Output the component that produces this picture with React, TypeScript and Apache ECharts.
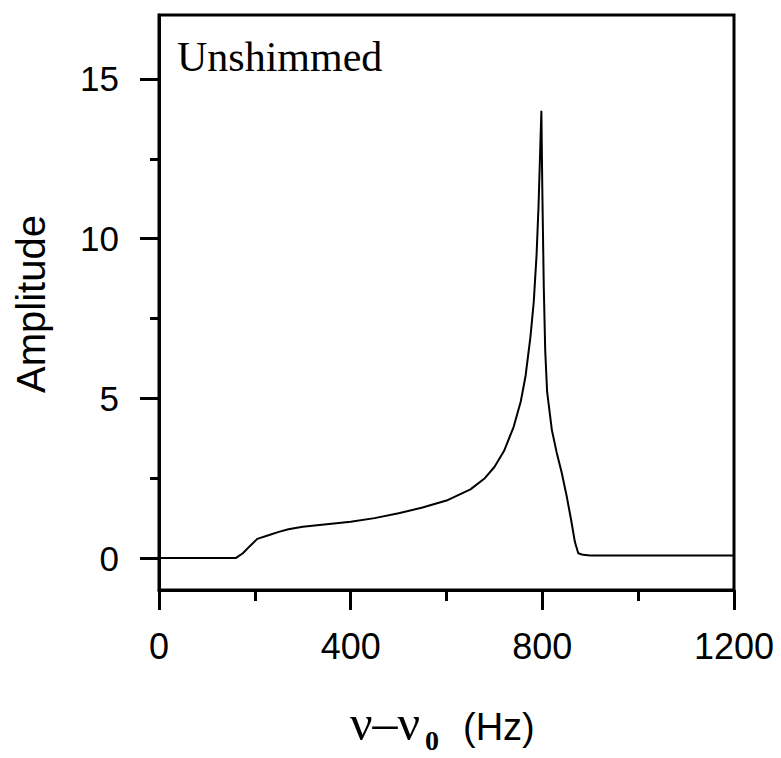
import React, { useEffect, useRef } from "react";
import * as echarts from "echarts";

const freqHz = [0, 100, 160, 175, 190, 205, 230, 250, 270, 300, 350, 400, 450, 500, 550, 600, 650, 680, 700, 720, 740, 755, 765, 775, 782, 788, 792, 795, 798, 800, 803, 806, 810, 820, 830, 840, 850, 860, 868, 875, 885, 900, 1000, 1200];
const amplitude = [0, 0, 0, 0.15, 0.38, 0.6, 0.72, 0.82, 0.9, 0.98, 1.06, 1.14, 1.25, 1.4, 1.58, 1.8, 2.15, 2.5, 2.85, 3.35, 4.1, 4.9, 5.7, 6.9, 8.0, 9.5, 11, 12.5, 14.0, 11.5, 8.5, 6.5, 5.2, 4.0, 3.3, 2.7, 2.0, 1.2, 0.5, 0.15, 0.1, 0.08, 0.08, 0.08];

const yLabelValues = [0, 5, 10, 15];
const yMinorValues = [2.5, 7.5, 12.5];
const xMin = 0;
const xMax = 1200;
const yMin = -1;
const yMax = 17;

const panelTitle = "Unshimmed";
const yTitle = "Amplitude";

export default function App() {
  const ref = useRef<HTMLDivElement>(null);
  useEffect(() => {
    if (!ref.current) return;
    const chart = echarts.init(ref.current, null, { renderer: "svg" });
    const sans = "Liberation Sans";
    const serif = "Liberation Serif";
    const data = freqHz.map((f, i) => [f, amplitude[i]]);
    chart.setOption({
      animation: false,
      backgroundColor: "#fff",
      grid: {
        left: 159,
        right: 47,
        top: 15,
        bottom: 168,
        show: true,
        borderColor: "#000",
        borderWidth: 3,
        backgroundColor: "transparent",
      },
      xAxis: [
        {
          type: "value",
          min: xMin,
          max: xMax,
          interval: 400,
          axisLine: { show: true, onZero: false, lineStyle: { color: "#000", width: 3 } },
          axisTick: { show: true, length: 20, lineStyle: { color: "#000", width: 3 } },
          axisLabel: { color: "#000", fontFamily: sans, fontSize: 36, margin: 38, formatter: (v: number) => String(v) },
          splitLine: { show: false },
        },
        {
          type: "value",
          min: xMin,
          max: xMax,
          interval: 200,
          position: "bottom",
          axisLine: { show: false, onZero: false },
          axisTick: { show: true, length: 11, lineStyle: { color: "#000", width: 3 } },
          axisLabel: { show: false },
          splitLine: { show: false },
        },
      ],
      yAxis: [
        {
          type: "value",
          min: yMin,
          max: yMax,
          axisLine: { show: true, onZero: false, lineStyle: { color: "#000", width: 3 } },
          axisTick: { show: true, length: 19, customValues: yLabelValues, lineStyle: { color: "#000", width: 3 } },
          axisLabel: { color: "#000", fontFamily: sans, fontSize: 35, margin: 40, customValues: yLabelValues },
          splitLine: { show: false },
        },
        {
          type: "value",
          min: yMin,
          max: yMax,
          position: "left",
          axisLine: { show: false, onZero: false },
          axisTick: { show: true, length: 9, customValues: yMinorValues, lineStyle: { color: "#000", width: 3 } },
          axisLabel: { show: false, customValues: yMinorValues },
          splitLine: { show: false },
        },
      ],
      series: [
        {
          type: "line",
          data,
          xAxisIndex: 0,
          yAxisIndex: 0,
          showSymbol: false,
          smooth: false,
          lineStyle: { color: "#000", width: 2 },
        },
      ],
      graphic: [
        {
          type: "text",
          left: 177,
          top: 36,
          style: { text: panelTitle, font: `42px '${serif}'`, fill: "#000" },
        },
        {
          type: "text",
          x: 31,
          y: 304,
          rotation: Math.PI / 2,
          style: { text: yTitle, font: `40px '${sans}'`, fill: "#000", align: "center", verticalAlign: "middle" },
        },
        {
          type: "text",
          x: 350,
          y: 723,
          style: { text: "ν–ν", font: `50px '${serif}'`, fill: "#000", align: "left", verticalAlign: "middle" },
        },
        {
          type: "text",
          x: 425,
          y: 740,
          style: { text: "0", font: `bold 28px '${serif}'`, fill: "#000", align: "left", verticalAlign: "middle" },
        },
        {
          type: "text",
          x: 463,
          y: 727,
          style: { text: "(Hz)", font: `38px '${sans}'`, fill: "#000", align: "left", verticalAlign: "middle" },
        },
      ],
    });
    return () => chart.dispose();
  }, []);
  return <div ref={ref} style={{ position: "fixed", left: 0, top: 0, width: 781, height: 758 }} />;
}
